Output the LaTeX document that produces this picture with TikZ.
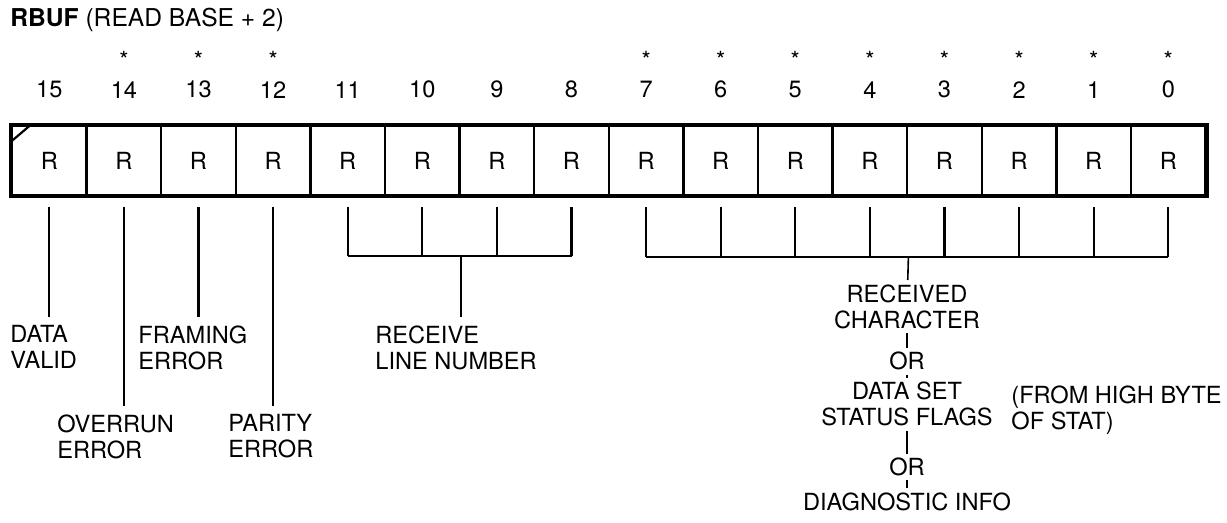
\documentclass[tikz,border=0pt]{standalone}
\usepackage{fontspec}
\setmainfont{TeX Gyre Heros}
\usetikzlibrary{positioning}

\tikzset{
    txt/.style={font=\fontsize{11.8}{13}\selectfont, inner sep=0pt},
    bitcell/.style={txt, draw, line width=1.2pt, minimum width=37.3pt, minimum height=34.5pt},
    lbl/.style={txt, align=left, inner sep=4pt, anchor=north west},
    clbl/.style={txt, align=center, inner sep=2pt},
    lead/.style={line width=1.1pt},
    joinline/.style={line width=0.6pt}
}

\begin{document}
\begin{tikzpicture}[x=0.5pt, y=-0.5pt]
    \useasboundingbox (0,0) rectangle (1227,523);

    % Title
    \node[txt, anchor=west, font=\fontsize{12.3}{14}\selectfont] (title) at (10,20) {\textbf{RBUF} (READ BASE + 2)};

    % Register: one cell per bit, numbers above
    \foreach \b in {0,...,15} {
        \node[bitcell] (b\b) at ({49.3+74.6*(15-\b)},160.5) {R};
        \node[txt, yshift=17.5pt] (n\b) at (b\b.north) {\b};
    }
    \foreach \b in {14,13,12,7,6,5,4,3,2,1,0}
        \node[txt, yshift=15pt] (s\b) at (n\b) {*}; % starred bits

    % Heavy outer frame and the corner mark
    \draw[line width=1.8pt] (b15.north west) rectangle (b0.south east);
    \draw[line width=1.1pt] ([yshift=-8.5pt]b15.north west) -- ([xshift=10pt]b15.north west);

    % Single bit fields
    \node[lbl] (valid) at (2,317) {DATA\\VALID};
    \node[lbl] (overrun) at (49,406) {OVERRUN\\ERROR};
    \node[lbl] (framing) at (130,317) {FRAMING\\ERROR};
    \node[lbl] (parity) at (220,406) {PARITY\\ERROR};
    \foreach \b/\l in {15/valid, 14/overrun, 13/framing, 12/parity}
        \draw[lead] ([yshift=-5.5pt]b\b.south) -- (b\b.south |- \l.north);

    % Bits 11-8
    \coordinate (rl) at (0,256);
    \foreach \b in {11,10,9,8}
        \draw[lead] ([yshift=-5.5pt]b\b.south) -- (b\b.south |- rl);
    \draw[lead] (b11.south |- rl) -- (b8.south |- rl);
    \node[lbl] (linenum) at (367,317) {RECEIVE\\LINE NUMBER};
    \draw[lead] (b10.south east |- rl) -- (b10.south east |- linenum.north);

    % Bits 7-0
    \coordinate (rc) at (0,257);
    \foreach \b in {7,...,0}
        \draw[lead] ([yshift=-5.5pt]b\b.south) -- (b\b.south |- rc);
    \draw[lead] (b7.south |- rc) -- (b0.south |- rc);

    \node[clbl, anchor=north] (rchar) at (907,280) {RECEIVED\\CHARACTER};
    \node[clbl, below=7.5pt of rchar] (or1) {OR};
    \node[clbl, below=1.5pt of or1] (dsflags) {DATA SET\\STATUS FLAGS};
    \node[clbl, below=11.5pt of dsflags] (or2) {OR};
    \node[clbl, below=4pt of or2] (diag) {DIAGNOSTIC INFO};
    \node[lbl] (hibyte) at (1003,377) {(FROM HIGH BYTE\\OF STAT)};

    \draw[line width=0.8pt] (b4.south east |- rc) -- (rchar);
    \draw[joinline] (rchar) -- (or1);
    \draw[joinline] (or1) -- (dsflags);
    \draw[joinline] (dsflags) -- (or2);
    \draw[joinline] (or2) -- (diag);
\end{tikzpicture}
\end{document}
